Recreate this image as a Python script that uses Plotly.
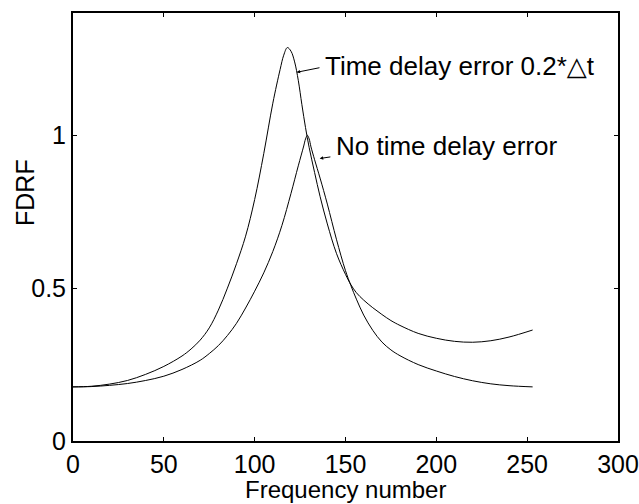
import plotly.graph_objects as go

# Frequency numbers and FDRF values
freq_no_delay = [0, 10, 20, 30, 40, 50, 60, 70, 75, 80, 85, 90, 95, 100, 105, 110, 115,
                 120, 124, 127, 128, 129, 130, 131, 133, 136, 140, 145, 150, 153, 156,
                 160, 165, 170, 175, 180, 190, 200, 210, 220, 230, 240, 253]
fdrf_no_delay = [0.177, 0.178, 0.182, 0.188, 0.198, 0.212, 0.234, 0.264, 0.286, 0.312,
                 0.345, 0.385, 0.435, 0.490, 0.550, 0.620, 0.705, 0.810, 0.900, 0.965,
                 0.988, 1.000, 0.988, 0.962, 0.920, 0.860, 0.775, 0.660, 0.557, 0.508,
                 0.464, 0.412, 0.362, 0.324, 0.298, 0.279, 0.250, 0.229, 0.211, 0.197,
                 0.187, 0.181, 0.177]

freq_delay = [0, 10, 20, 30, 40, 50, 60, 65, 70, 75, 80, 85, 90, 95, 100, 105, 110,
              114, 116, 118, 120, 122, 124, 126, 128, 130, 133, 136, 140, 145, 150, 153,
              156, 160, 165, 170, 175, 180, 190, 200, 210, 220, 230, 240, 253]
fdrf_delay = [0.177, 0.179, 0.186, 0.198, 0.218, 0.244, 0.278, 0.301, 0.330, 0.370,
              0.428, 0.500, 0.580, 0.670, 0.790, 0.940, 1.105, 1.215, 1.262, 1.287,
              1.275, 1.240, 1.180, 1.100, 1.025, 0.960, 0.878, 0.800, 0.710, 0.614,
              0.545, 0.511, 0.485, 0.461, 0.436, 0.414, 0.394, 0.378, 0.352, 0.336,
              0.326, 0.323, 0.328, 0.340, 0.363]

x_ticks = [0, 50, 100, 150, 200, 250, 300]
y_ticks = [0, 0.5, 1]
y_tick_labels = ["0", "0.5", "1"]

label_delay = "Time delay error 0.2*\u25b3t"
label_no_delay = "No time delay error"
x_title = "Frequency number"
y_title = "FDRF"

FONT = "Liberation Sans, Arial, DejaVu Sans, sans-serif"

fig = go.Figure()
fig.add_trace(go.Scatter(x=freq_no_delay, y=fdrf_no_delay, mode="lines",
                         line=dict(color="black", width=1, shape="spline", smoothing=1.0),
                         showlegend=False, hoverinfo="skip"))
fig.add_trace(go.Scatter(x=freq_delay, y=fdrf_delay, mode="lines",
                         line=dict(color="black", width=1, shape="spline", smoothing=1.0),
                         showlegend=False, hoverinfo="skip"))

# arrows
fig.add_annotation(x=123.1, y=1.206, ax=136.5, ay=1.222, axref="x", ayref="y",
                   xref="x", yref="y", text="", showarrow=True,
                   arrowhead=2, arrowsize=0.7, arrowwidth=1, arrowcolor="black")
fig.add_annotation(x=135.8, y=0.924, ax=142.5, ay=0.930, axref="x", ayref="y",
                   xref="x", yref="y", text="", showarrow=True,
                   arrowhead=2, arrowsize=0.7, arrowwidth=1, arrowcolor="black")
# labels
fig.add_annotation(x=137.8, y=1.228, xref="x", yref="y", text=label_delay,
                   showarrow=False, xanchor="left", yanchor="middle",
                   font=dict(family=FONT, size=26, color="black"))
fig.add_annotation(x=143.6, y=0.966, xref="x", yref="y", text=label_no_delay,
                   showarrow=False, xanchor="left", yanchor="middle",
                   font=dict(family=FONT, size=26, color="black"))
# axis titles
fig.add_annotation(x=(25 - 73) / 545, y=(441 - 193) / 428, xref="paper", yref="paper",
                   text=y_title, showarrow=False, textangle=-90,
                   xanchor="center", yanchor="middle",
                   font=dict(family=FONT, size=25, color="black"))
fig.add_annotation(x=0.5, y=(441 - 489) / 428, xref="paper", yref="paper",
                   text=x_title, showarrow=False,
                   xanchor="center", yanchor="middle",
                   font=dict(family=FONT, size=24, color="black"))

fig.update_layout(
    width=639, height=504,
    margin=dict(l=73, r=21, t=13, b=63, autoexpand=False),
    paper_bgcolor="white", plot_bgcolor="white",
    font=dict(family=FONT, size=25, color="black"),
)
fig.update_xaxes(range=[0, 300], tickvals=x_ticks, ticks="inside", ticklen=4,
                 tickcolor="black", showline=True, linecolor="black", linewidth=2,
                 mirror="ticks", showgrid=False, zeroline=False, automargin=False)
fig.update_yaxes(range=[0, 1.4], tickvals=y_ticks, ticktext=y_tick_labels,
                 ticks="inside", ticklen=4, tickcolor="black", showline=True,
                 linecolor="black", linewidth=2, mirror="ticks", showgrid=False,
                 zeroline=False, automargin=False)

fig.write_html("out.html")
